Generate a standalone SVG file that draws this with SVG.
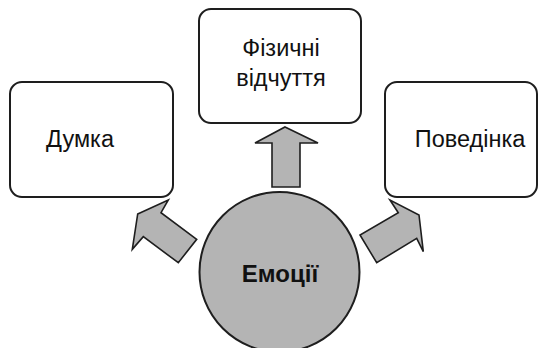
<svg xmlns="http://www.w3.org/2000/svg" width="538" height="348" viewBox="0 0 538 348">
  <style>
    .box { fill: #ffffff; stroke: #1e1e1e; stroke-width: 2; }
    .hub { fill: #b4b4b4; stroke: #1e1e1e; stroke-width: 2; }
    .arrow { fill: #b4b4b4; stroke: #1e1e1e; stroke-width: 1.6; stroke-linejoin: miter; }
    .label { font-family: "Liberation Sans", Arial, sans-serif; font-size: 23.5px; fill: #111111; text-anchor: middle; }
    .bold { font-weight: bold; font-size: 24px; }
  </style>
  <rect width="538" height="348" fill="#ffffff"/>

  <!-- block arrows from the hub to each node -->
  <g id="connectors">
    <polygon class="arrow" points="285,127 318,143 300,143 300,187 272,187 272,143 255,143"/>
    <polygon class="arrow" points="137.7,214 168.3,200 161,212.7 196.7,239.3 178.3,262.7 143.3,236.7 132.3,249.3"/>
    <polygon class="arrow" points="419,215 423.3,251.7 416.7,238.3 376.7,262.7 360,235 398.3,212.7 390,200"/>
  </g>

  <g id="node-thought">
    <rect class="box" x="10" y="82" width="163" height="115" rx="12"/>
    <text class="label" x="80" y="147">Думка</text>
  </g>

  <g id="node-body">
    <rect class="box" x="199" y="9" width="162" height="114" rx="12"/>
    <text class="label" x="281" y="56">Фізичні</text>
    <text class="label" x="281" y="86">відчуття</text>
  </g>

  <g id="node-behaviour">
    <rect class="box" x="385" y="82" width="152" height="115" rx="12"/>
    <text class="label" x="470" y="147">Поведінка</text>
  </g>

  <g id="node-emotions">
    <circle class="hub" cx="279.5" cy="272" r="80"/>
    <text class="label bold" x="280" y="282">Емоції</text>
  </g>
</svg>
